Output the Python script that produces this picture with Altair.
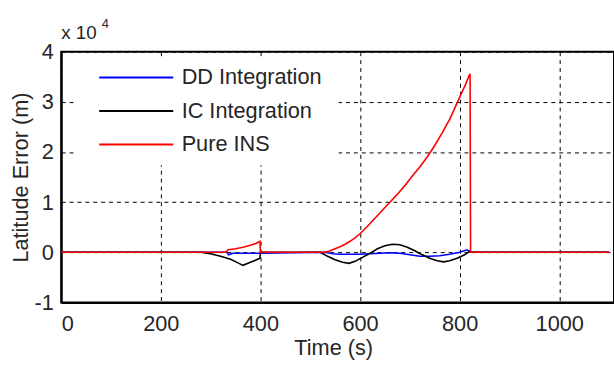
import altair as alt
import pandas as pd

series_names = ["DD Integration", "IC Integration", "Pure INS"]
series_colors = ["#0000FF", "#000000", "#FF0000"]

# Time (s) and latitude error (x 10^4 m)
dd_t = [0, 333, 336, 345, 400, 530, 545, 560, 580, 600, 620, 640, 660, 680, 700, 720, 740, 760, 780, 800, 815, 822, 1100]
dd_v = [0, 0, -0.05, -0.02, -0.02, 0, -0.03, -0.04, -0.04, -0.04, -0.03, -0.02, -0.01, -0.02, -0.05, -0.08, -0.08, -0.07, -0.04, 0.0, 0.05, 0, 0]

ic_t = [0, 280, 300, 320, 340, 355, 365, 375, 390, 399, 400, 520, 535, 550, 565, 578, 590, 605, 620, 635, 650, 665, 680, 695, 710, 725, 740, 755, 768, 780, 795, 810, 820, 822, 1100]
ic_v = [0, 0, -0.03, -0.08, -0.14, -0.21, -0.26, -0.22, -0.16, -0.12, 0, 0, -0.08, -0.15, -0.2, -0.22, -0.18, -0.1, -0.02, 0.07, 0.13, 0.16, 0.15, 0.1, 0.03, -0.05, -0.12, -0.17, -0.19, -0.17, -0.12, -0.05, 0.02, 0, 0]

ins_t = [0, 330, 335, 350, 365, 380, 392, 399, 400, 530, 540, 550, 560, 570, 580, 590, 600, 615, 630, 645, 660, 675, 690, 705, 720, 735, 750, 765, 780, 795, 805, 812, 818, 821, 822, 1100]
ins_v = [0, 0, 0.05, 0.07, 0.1, 0.14, 0.18, 0.22, 0, 0, 0.03, 0.07, 0.11, 0.16, 0.22, 0.29, 0.37, 0.52, 0.68, 0.84, 1.0, 1.16, 1.33, 1.52, 1.70, 1.90, 2.13, 2.38, 2.65, 2.98, 3.2, 3.35, 3.5, 3.56, 0, 0]

x_ticks = [0, 200, 400, 600, 800, 1000]
y_ticks = [-1, 0, 1, 2, 3, 4]

rows = []
for name, ts, vs in [(series_names[0], dd_t, dd_v), (series_names[1], ic_t, ic_v), (series_names[2], ins_t, ins_v)]:
    for i, (t, v) in enumerate(zip(ts, vs)):
        rows.append({"series": name, "time": t, "err": v, "idx": i})
df = pd.DataFrame(rows)

FONT = "Liberation Sans"
TXT = "#262626"
FS = 22

# white box behind the legend (hides the grid there, as in the original)
legend_bg = alt.Chart(pd.DataFrame({"k": [0]})).mark_rect(color="white").encode(
    x=alt.value(15), x2=alt.value(281), y=alt.value(7), y2=alt.value(115)
)

lines = alt.Chart(df).mark_line(strokeWidth=1.6).encode(
    x=alt.X("time:Q", scale=alt.Scale(domain=[0, 1110], nice=False, zero=False),
            axis=alt.Axis(values=x_ticks, format="d", title="Time (s)", titleX=275.5,
                          titlePadding=4, labelPadding=11)),
    y=alt.Y("err:Q", scale=alt.Scale(domain=[-1, 4], nice=False),
            axis=alt.Axis(values=y_ticks, labelExpr="'' + datum.value", title="Latitude Error (m)",
                          titlePadding=2, labelPadding=8)),
    color=alt.Color("series:N", scale=alt.Scale(domain=series_names, range=series_colors),
                    legend=alt.Legend(title=None, orient="none", legendX=14, legendY=7,
                                      symbolType="M-5,0L5,0", symbolSize=225, symbolStrokeWidth=2,
                                      labelFontSize=FS, labelFont=FONT, labelColor=TXT,
                                      padding=8, symbolOffset=43,
                                      labelOffset=35, rowPadding=12)),
    order="idx:Q",
)

mult = alt.Chart(pd.DataFrame({"t": ["x 10"]})).mark_text(
    align="left", baseline="alphabetic", fontSize=19, font=FONT, color=TXT
).encode(x=alt.value(0), y=alt.value(-13), text="t:N")
sup = alt.Chart(pd.DataFrame({"t": ["4"]})).mark_text(
    align="left", baseline="alphabetic", fontSize=13, font=FONT, color=TXT
).encode(x=alt.value(41), y=alt.value(-24), text="t:N")

chart = alt.layer(legend_bg, lines, mult, sup).properties(
    width=560, height=254,
    background="white",
    autosize=alt.AutoSizeParams(type="none"),
    padding={"left": 62, "top": 50, "right": 0, "bottom": 65},
).configure_view(stroke="black", strokeWidth=2).configure_axis(
    grid=True, gridColor="black", gridDash=[4, 4], gridWidth=1, gridOpacity=1,
    domain=True, domainColor="black", domainWidth=2, ticks=False,
    labelFont=FONT, labelFontSize=FS, labelColor=TXT,
    titleFont=FONT, titleFontSize=FS, titleFontWeight="normal", titleColor=TXT,
)

chart.save("out.html", embed_options={"renderer": "svg", "actions": False})
